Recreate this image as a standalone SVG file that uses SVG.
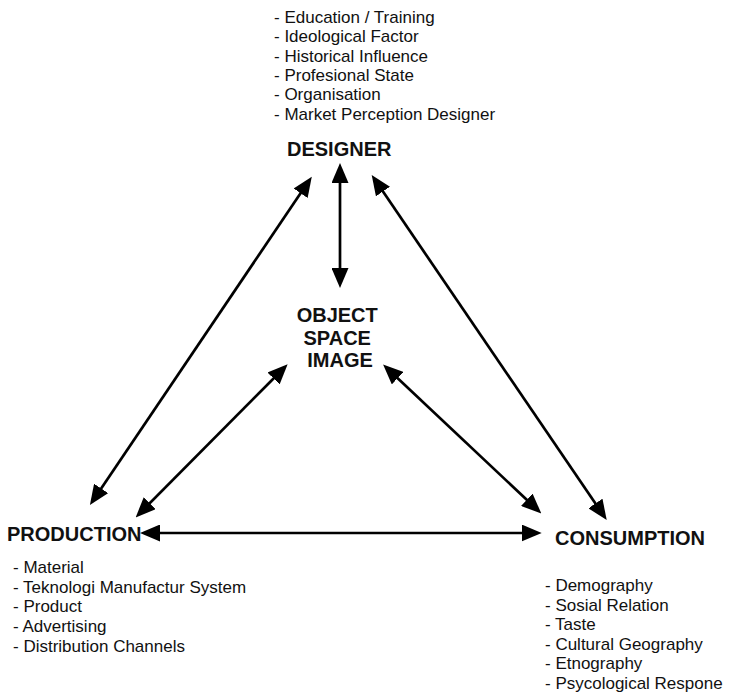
<svg xmlns="http://www.w3.org/2000/svg" width="729" height="693" viewBox="0 0 729 693">
  <style>
    .list { font-family: "Liberation Sans", Arial, sans-serif; font-size: 17px; fill: #111; }
    .title { font-family: "Liberation Sans", Arial, sans-serif; font-size: 20px; font-weight: bold; fill: #111; }
    .conn line { stroke: #000; stroke-width: 2.7; marker-start: url(#ah); marker-end: url(#ah); }
  </style>
  <defs>
    <marker id="ah" viewBox="0 0 20 17" refX="12" refY="8.5" markerWidth="20" markerHeight="17" markerUnits="userSpaceOnUse" orient="auto-start-reverse">
      <path d="M0,0 L20,8.5 L0,17 Z" fill="#000"/>
    </marker>
  </defs>
  <rect width="729" height="693" fill="#fff"/>

  <g id="designer">
    <text class="list" x="274">
      <tspan x="274" y="23">- Education / Training</tspan>
      <tspan x="274" y="42.3">- Ideological Factor</tspan>
      <tspan x="274" y="61.6">- Historical Influence</tspan>
      <tspan x="274" y="80.9">- Profesional State</tspan>
      <tspan x="274" y="100.2">- Organisation</tspan>
      <tspan x="274" y="119.5">- Market Perception Designer</tspan>
    </text>
    <text class="title" x="287" y="156">DESIGNER</text>
  </g>

  <g id="object">
    <text class="title" text-anchor="middle">
      <tspan x="340" y="322">OBJECT</tspan>
      <tspan x="340" y="344.5">SPACE</tspan>
      <tspan x="340" y="367">IMAGE</tspan>
    </text>
  </g>

  <g id="production">
    <text class="title" x="7" y="541">PRODUCTION</text>
    <text class="list">
      <tspan x="13" y="573">- Material</tspan>
      <tspan x="13" y="592.7">- Teknologi Manufactur System</tspan>
      <tspan x="13" y="612.4">- Product</tspan>
      <tspan x="13" y="632.1">- Advertising</tspan>
      <tspan x="13" y="651.8">- Distribution Channels</tspan>
    </text>
  </g>

  <g id="consumption">
    <text class="title" x="555" y="545">CONSUMPTION</text>
    <text class="list">
      <tspan x="545" y="591">- Demography</tspan>
      <tspan x="545" y="610.6">- Sosial Relation</tspan>
      <tspan x="545" y="630.2">- Taste</tspan>
      <tspan x="545" y="649.8">- Cultural Geography</tspan>
      <tspan x="545" y="669.4">- Etnography</tspan>
      <tspan x="545" y="689">- Psycological Respone</tspan>
    </text>
  </g>

  <g id="connectors" class="conn">
    <line x1="340" y1="171" x2="340" y2="280"/>
    <line x1="307.3" y1="183.3" x2="94.4" y2="498.4"/>
    <line x1="282" y1="370" x2="141.3" y2="511.7"/>
    <line x1="376.2" y1="181.6" x2="602.2" y2="513.4"/>
    <line x1="388.9" y1="370" x2="535.5" y2="508"/>
    <line x1="148" y1="533" x2="533.7" y2="533"/>
  </g>
</svg>
